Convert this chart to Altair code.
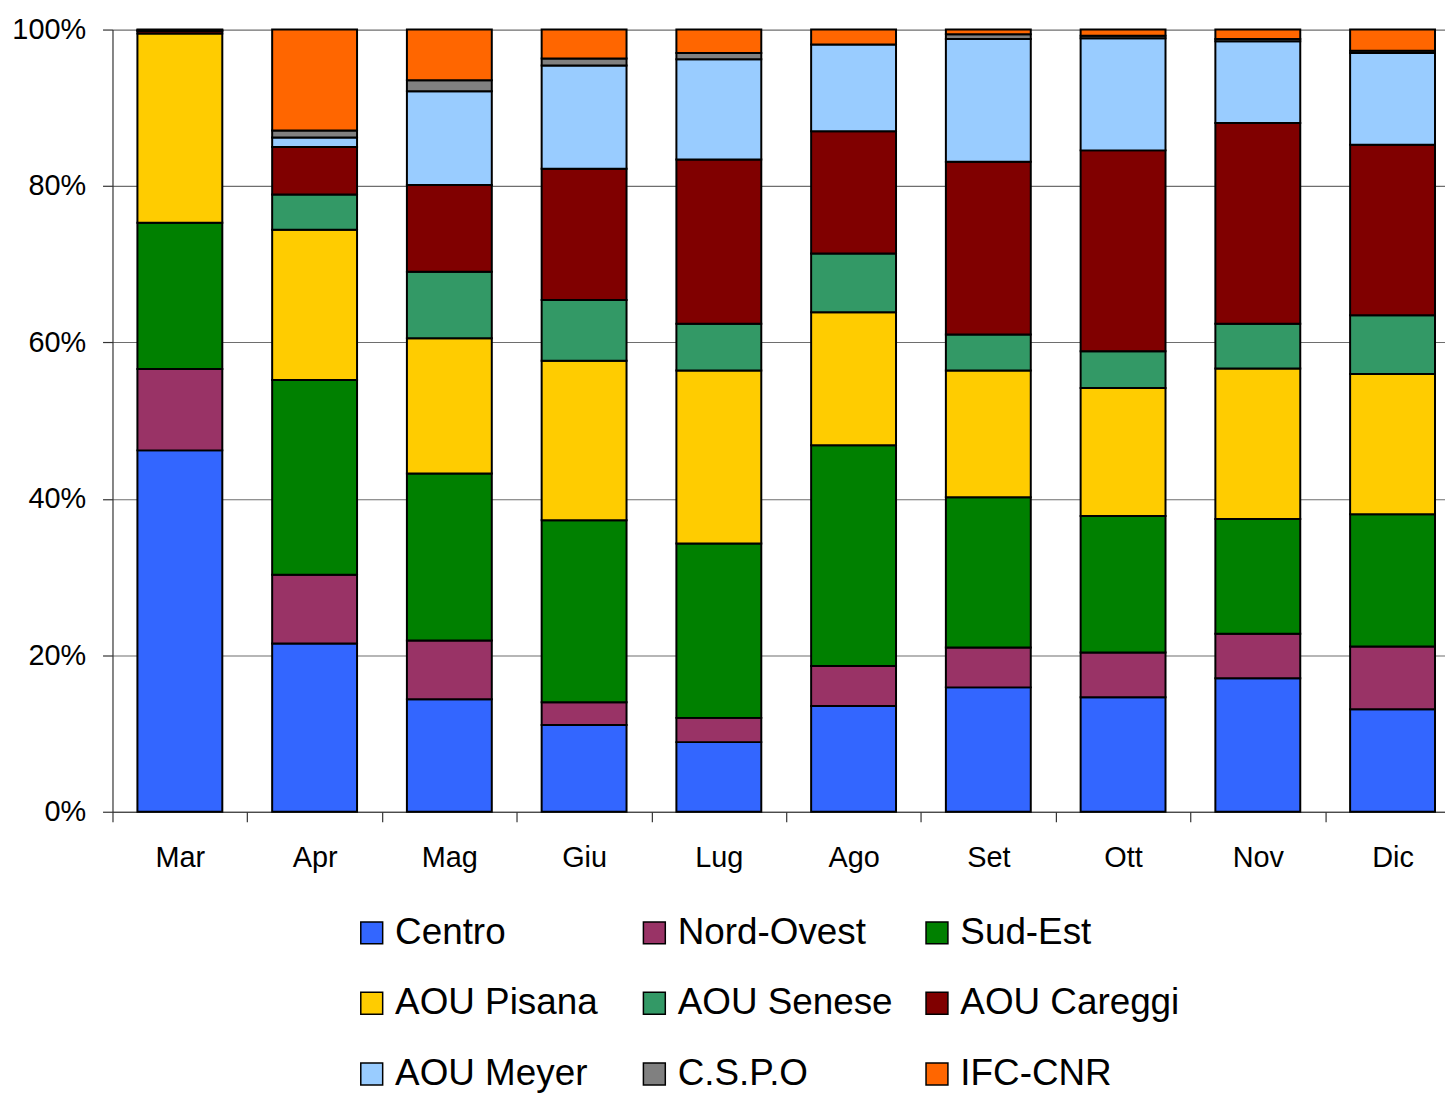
import altair as alt
import pandas as pd

months = ["Mar", "Apr", "Mag", "Giu", "Lug", "Ago", "Set", "Ott", "Nov", "Dic"]
series = ["Centro", "Nord-Ovest", "Sud-Est", "AOU Pisana", "AOU Senese",
          "AOU Careggi", "AOU Meyer", "C.S.P.O", "IFC-CNR"]
colors = ["#3366FF", "#993366", "#008000", "#FFCC00", "#339966",
          "#800000", "#99CCFF", "#808080", "#FF6600"]

centro      = [46.2, 21.5, 14.4, 11.1,  8.9, 13.5, 15.9, 14.6, 17.0, 13.1]
nord_ovest  = [10.4,  8.8,  7.5,  2.9,  3.1,  5.1,  5.1,  5.7,  5.7,  8.0]
sud_est     = [18.7, 24.9, 21.4, 23.3, 22.3, 28.2, 19.2, 17.4, 14.6, 16.9]
aou_pisana  = [24.2, 19.2, 17.3, 20.4, 22.1, 17.0, 16.2, 16.3, 19.2, 17.9]
aou_senese  = [0.0,   4.5,  8.5,  7.8,  6.0,  7.5,  4.6,  4.7,  5.7,  7.5]
aou_careggi = [0.3,   6.1, 11.1, 16.8, 21.0, 15.6, 22.1, 25.6, 25.6, 21.8]
aou_meyer   = [0.0,   1.2, 12.0, 13.2, 12.8, 11.1, 15.7, 14.3, 10.4, 11.7]
cspo        = [0.1,   0.9,  1.4,  0.9,  0.8,  0.0,  0.6,  0.3,  0.3,  0.3]
ifc_cnr     = [0.1,  12.9,  6.5,  3.7,  3.0,  1.9,  0.6,  0.8,  1.2,  2.7]

values = [centro, nord_ovest, sud_est, aou_pisana, aou_senese,
          aou_careggi, aou_meyer, cspo, ifc_cnr]

rows = []
for si, (name, vals) in enumerate(zip(series, values)):
    for m, v in zip(months, vals):
        rows.append({"mese": m, "serie": name, "ordine": si, "valore": v})
df = pd.DataFrame(rows)

FONT = "Liberation Sans"

chart = alt.Chart(df).transform_filter("datum.valore > 0").mark_bar(
    width={"band": 0.63}, stroke="black", strokeWidth=2
).encode(
    x=alt.X("mese:N",
            scale=alt.Scale(domain=months, range=[0, 1354], paddingInner=0, paddingOuter=0),
            axis=alt.Axis(title=None, labelAngle=0, tickBand="extent", grid=False,
                          labelFontSize=29, labelFont=FONT, labelColor="black",
                          tickSize=10, labelPadding=22, tickColor="#333",
                          domainColor="#333", domainWidth=1.2, tickWidth=1.2)),
    y=alt.Y("valore:Q", stack="normalize",
            scale=alt.Scale(domain=[0, 1]),
            axis=alt.Axis(title=None, format=".0%", values=[0, 0.2, 0.4, 0.6, 0.8, 1.0],
                          grid=True, gridColor="#6e6e6e", gridWidth=1.2,
                          labelFontSize=29, labelFont=FONT, labelColor="black",
                          tickSize=10, labelPadding=17, tickColor="#333",
                          domainColor="#333", domainWidth=1.2, tickWidth=1.2)),
    color=alt.Color("serie:N",
                    scale=alt.Scale(domain=series, range=colors),
                    legend=alt.Legend(title=None, orient="none", legendX=242, legendY=889,
                                      direction="horizontal",
                                      columns=3, gridAlign="all", symbolType="square",
                                      symbolSize=484, symbolStrokeColor="black",
                                      symbolStrokeWidth=1.5, symbolOpacity=1,
                                      labelFontSize=37, labelFont=FONT, labelColor="black",
                                      labelOffset=5, rowPadding=33, columnPadding=21,
                                      labelLimit=500, padding=0)),
    order=alt.Order("ordine:Q", sort="ascending"),
).properties(
    width=1339, height=786,
    autosize=alt.AutoSizeParams(type="none"),
    padding={"left": 105, "top": 19, "right": 0, "bottom": 286},
).configure_view(stroke=None)

chart.save("out.html", embed_options={"renderer": "svg", "actions": False})
